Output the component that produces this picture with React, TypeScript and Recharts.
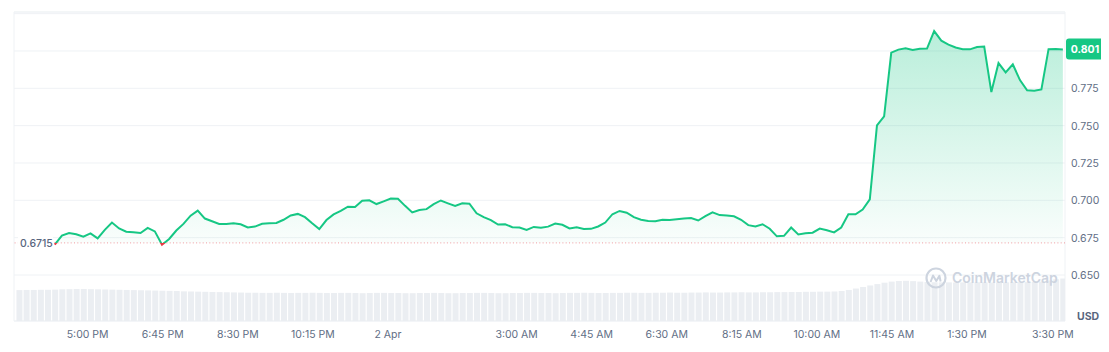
import React from 'react';
import { ComposedChart, Area, Bar, XAxis, YAxis, CartesianGrid, ReferenceLine, ReferenceArea } from 'recharts';

// minutes relative to 00:00, 2 Apr
const PRICE_START = -466;
const VOL_START = -516;
const STEP = 10;
const X_DOMAIN: [number, number] = [-523, 947];

const PRICES = [
  0.6703, 0.6764, 0.6781, 0.6773, 0.6757, 0.6779, 0.6745, 0.6802, 0.6851, 0.6812,
  0.6790, 0.6786, 0.6781, 0.6815, 0.6792, 0.6703, 0.6741, 0.6798, 0.6842, 0.6897,
  0.6931, 0.6878, 0.6860, 0.6842, 0.6841, 0.6847, 0.6840, 0.6818, 0.6824, 0.6843,
  0.6847, 0.6848, 0.6870, 0.6899, 0.6909, 0.6887, 0.6846, 0.6808, 0.6868, 0.6906,
  0.6929, 0.6957, 0.6955, 0.6997, 0.7000, 0.6975, 0.6993, 0.7012, 0.7010, 0.6963,
  0.6919, 0.6935, 0.6941, 0.6975, 0.6999, 0.6980, 0.6962, 0.6980, 0.6977, 0.6913,
  0.6888, 0.6868, 0.6838, 0.6840, 0.6820, 0.6818, 0.6802, 0.6822, 0.6816, 0.6824,
  0.6844, 0.6836, 0.6812, 0.6819, 0.6808, 0.6809, 0.6825, 0.6851, 0.6907, 0.6929,
  0.6917, 0.6887, 0.6870, 0.6861, 0.6860, 0.6870, 0.6869, 0.6874, 0.6878, 0.6881,
  0.6865, 0.6894, 0.6920, 0.6901, 0.6898, 0.6893, 0.6870, 0.6834, 0.6825, 0.6840,
  0.6810, 0.6759, 0.6762, 0.6818, 0.6772, 0.6779, 0.6783, 0.6811, 0.6800, 0.6785,
  0.6818, 0.6907, 0.6907, 0.6938, 0.7007, 0.7502, 0.7562, 0.7989, 0.8009, 0.8018,
  0.8006, 0.8015, 0.8016, 0.8133, 0.8069, 0.8043, 0.8023, 0.8012, 0.8011, 0.8027,
  0.8030, 0.7725, 0.7919, 0.7857, 0.7911, 0.7805, 0.7737, 0.7733, 0.7742, 0.8012,
  0.8014, 0.8010,
];

const VOLUMES = [
  2.00, 2.01, 2.01, 2.02, 2.02, 2.03,
  2.05, 2.06, 2.07, 2.07, 2.06,
  2.05, 2.04, 2.03, 2.02, 2.01, 2.00, 1.99, 1.98, 1.97, 1.96, 1.95, 1.94,
  1.92, 1.91, 1.90, 1.89, 1.88, 1.87, 1.86, 1.85, 1.84, 1.83,
  1.83, 1.82, 1.82, 1.83, 1.82, 1.81, 1.82, 1.82, 1.83, 1.82,
  1.81, 1.81, 1.82, 1.82, 1.81, 1.80, 1.81, 1.82, 1.82, 1.81,
  1.81, 1.80, 1.80, 1.81, 1.81, 1.82, 1.81, 1.80, 1.80, 1.81,
  1.81, 1.82, 1.82, 1.81, 1.80, 1.80, 1.81, 1.81, 1.82, 1.82,
  1.81, 1.81, 1.80, 1.81, 1.82, 1.82, 1.83, 1.82, 1.81, 1.81,
  1.82, 1.82, 1.83, 1.83, 1.82, 1.82, 1.83, 1.83, 1.84, 1.83,
  1.83, 1.84, 1.84, 1.85, 1.84, 1.84, 1.85, 1.85, 1.86, 1.85,
  1.85, 1.86, 1.86, 1.87, 1.87, 1.88, 1.88, 1.89, 1.89, 1.90,
  1.90, 1.91,
  1.94, 2.01, 2.10, 2.20, 2.30, 2.39, 2.48, 2.55,
  2.59, 2.60, 2.58, 2.55,
  2.52, 2.51, 2.50, 2.50, 2.49, 2.50, 2.50, 2.51, 2.50, 2.49, 2.50, 2.50, 2.51, 2.52, 2.52, 2.53, 2.55,
  2.62, 2.70, 2.75,
];

const OPEN_PRICE = 0.6715;
const X_TICKS = [-420, -315, -210, -105, 0, 180, 285, 390, 495, 600, 705, 810, 930];
const X_LABELS = ['5:00 PM', '6:45 PM', '8:30 PM', '10:15 PM', '2 Apr', '3:00 AM', '4:45 AM', '6:30 AM', '8:15 AM', '10:00 AM', '11:45 AM', '1:30 PM', '3:30 PM'];
const Y_TICKS = [0.65, 0.675, 0.7, 0.725, 0.75, 0.775, 0.8, 0.825];
const Y_DOMAIN: [number, number] = [0.6192, 0.8261];

const GREEN = '#16c784';
const RED = '#ea3943';
const GRID = '#eff2f5';
const TEXT = '#616e85';
const FONT = 'Inter, sans-serif';

const offset = (PRICE_START - VOL_START) / STEP;
const data = VOLUMES.map((v, j) => ({
  t: VOL_START + j * STEP,
  vol: v,
  price: j >= offset && j - offset < PRICES.length ? PRICES[j - offset] : undefined,
}));

const last = PRICES[PRICES.length - 1];
const pMax = Math.max(...PRICES);
const pMin = Math.min(...PRICES);
const splitAt = (pMax - OPEN_PRICE) / (pMax - pMin);

function PriceTick({ x, y, payload }: any) {
  if (payload.value >= 0.8) return <g />;
  return (
    <text x={x} y={y} dy={4} fontSize={10.5} fill={TEXT} fontFamily={FONT}>
      {payload.value.toFixed(3)}
    </text>
  );
}

function OpenLabel({ viewBox }: any) {
  const { x, y } = viewBox;
  return (
    <g>
      <rect x={x + 4} y={y - 7} width={35} height={14} fill="#fff" />
      <text x={x + 6} y={y} dy={4} fontSize={10.5} fontWeight={500} fill="#58667e" fontFamily={FONT}>
        {OPEN_PRICE.toFixed(4)}
      </text>
    </g>
  );
}

function LastBadge({ viewBox }: any) {
  const { x, y, width } = viewBox;
  const bx = x + width + 1;
  return (
    <g>
      <rect x={bx} y={y - 11} width={38} height={21} rx={3} fill={GREEN} />
      <text x={bx + 19} y={y} dy={4} textAnchor="middle" fontSize={10.5} fontWeight={700} fill="#fff" fontFamily={FONT}>
        {last.toFixed(3)}
      </text>
    </g>
  );
}

export default function App() {
  return (
    <div style={{ position: 'relative', width: 1099, height: 336, fontFamily: FONT }}>
      <ComposedChart width={1099} height={336} data={data} margin={{ top: 4, right: 0, bottom: 0, left: 6 }}>
        <defs>
          <linearGradient id="lineGrad" x1="0" y1="0" x2="0" y2="1">
            <stop offset={0} stopColor={GREEN} />
            <stop offset={splitAt} stopColor={GREEN} />
            <stop offset={splitAt} stopColor={RED} />
            <stop offset={1} stopColor={RED} />
          </linearGradient>
          <linearGradient id="fillGrad" x1="0" y1="0" x2="0" y2="1">
            <stop offset={0} stopColor={GREEN} stopOpacity={0.3} />
            <stop offset={1} stopColor={GREEN} stopOpacity={0.02} />
          </linearGradient>
        </defs>
        <CartesianGrid yAxisId="price" vertical={false} stroke={GRID} />
        <XAxis
          type="number"
          dataKey="t"
          domain={X_DOMAIN}
          ticks={X_TICKS}
          interval={0}
          allowDataOverflow
          tickFormatter={(v: number) => X_LABELS[X_TICKS.indexOf(v)]}
          axisLine={false}
          tickLine={false}
          tickMargin={4}
          height={23}
          tick={{ fontSize: 10.5, fill: TEXT, fontFamily: FONT }}
        />
        <YAxis
          yAxisId="price"
          orientation="right"
          domain={Y_DOMAIN}
          ticks={Y_TICKS}
          allowDataOverflow
          axisLine={false}
          tickLine={false}
          tickSize={0}
          tickMargin={6}
          width={42}
          tick={<PriceTick />}
        />
        <YAxis yAxisId="vol" hide domain={[0, 20]} />
        <ReferenceArea yAxisId="price" x1={X_DOMAIN[0]} x2={X_DOMAIN[1]} y1={Y_DOMAIN[0]} y2={Y_DOMAIN[1]} fill="none" stroke={GRID} />
        <Bar yAxisId="vol" dataKey="vol" fill="#ebeef2" barSize={6} isAnimationActive={false} />
        <ReferenceLine
          yAxisId="price"
          y={OPEN_PRICE}
          stroke={RED}
          strokeOpacity={0.5}
          strokeDasharray="1 2.3"
          label={(p: any) => <OpenLabel viewBox={p.viewBox} />}
        />
        <Area
          yAxisId="price"
          type="linear"
          dataKey="price"
          baseValue={OPEN_PRICE}
          stroke="url(#lineGrad)"
          strokeWidth={2}
          fill="url(#fillGrad)"
          fillOpacity={1}
          dot={false}
          activeDot={false}
          isAnimationActive={false}
        />
        <ReferenceLine
          yAxisId="price"
          y={last}
          stroke="none"
          label={(p: any) => <LastBadge viewBox={p.viewBox} />}
        />
      </ComposedChart>
      <svg width={1099} height={336} style={{ position: 'absolute', left: 0, top: 0, pointerEvents: 'none' }}>
        <circle cx={928} cy={270} r={9.5} fill="none" stroke="#cdd4df" strokeWidth={2.2} />
        <path d="M922.6 274 L925 267.5 L928.3 273 L931.4 267.8 L932.6 273.5" fill="none" stroke="#cdd4df" strokeWidth={2} strokeLinejoin="round" />
        <text x={944} y={270} dy={5} fontSize={14} fontWeight={600} fill="#cdd4df" fontFamily={FONT}>CoinMarketCap</text>
        <text x={1069} y={308} dy={4} fontSize={10.5} fontWeight={700} fill="#58667e" fontFamily={FONT}>USD</text>
      </svg>
    </div>
  );
}
